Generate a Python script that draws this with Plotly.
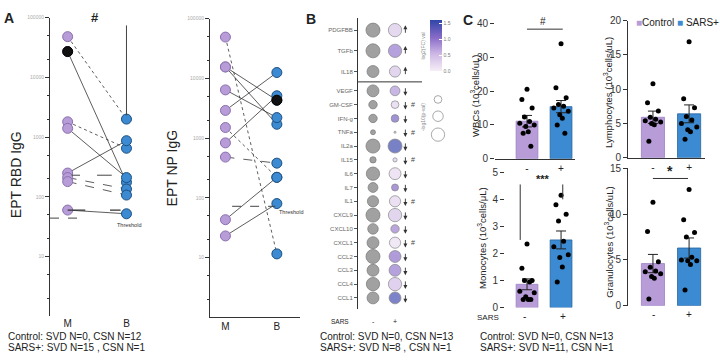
import plotly.graph_objects as go

W, H = 720, 360
def fx(p): return p / W
def fy(p): return 1 - p / H

FONT = "Liberation Sans, Arial, sans-serif"
PURPLE = "#b89cd8"
BLUE = "#3b8ad2"
INK = "#222222"

# ---------------- Panel A data ----------------
timepoints = ["M", "B"]
rbd_M = [48000, 27000, 1800, 1400, 250, 210, 180, 60]
rbd_B = [2000, 175, 650, 210, 870, 135, 107, 52]
rbd_link = ["dot", "solid", "dot", "solid", "solid", "dash", "dash", "solid"]
rbd_csn_subject = 1
rbd_threshold = 44
rbd_bracket = [74000, 2300]
rbd_marks = [230, 60]

np_M = [49000, 15500, 15500, 6400, 2900, 1500, 830, 480, 43, 23]
np_B = [11.5, 4300, 1700, 2200, 12500, 220, 5100, 380, 220, 80]
np_link = ["dot", "solid", "solid", "solid", "solid", "dot", "solid", "dash", "solid", "solid"]
np_csn_subject = 1
np_threshold = 72

log_ticks = [10, 100, 1000, 10000, 100000]
log_ticktext = ["10", "100", "1000", "10000", "100000"]

# ---------------- Panel B data ----------------
cytokines = ["PDGFBB", "TGFb", "IL18", "VEGF", "GM-CSF", "IFN-g", "TNFa", "IL2a", "IL15",
             "IL6", "IL7", "IL1", "CXCL9", "CXCL10", "CXCL1", "CCL2", "CCL3", "CCL4", "CCL1"]
ctrl_abundance = [1.0, 1.0, 0.85, 0.85, 0.6, 0.6, 0.35, 1.0, 0.45, 0.95, 0.7, 0.8,
                  1.0, 0.75, 0.85, 1.0, 0.85, 0.95, 0.85]
sars_abundance = [0.95, 0.95, 0.8, 0.7, 0.55, 0.55, 0.15, 1.0, 0.3, 0.85, 0.5, 0.8,
                  0.95, 0.6, 0.8, 0.85, 0.85, 0.95, 0.85]
sars_log2fc = [0.35, 0.95, 0.4, 0.75, 0.25, 1.15, 0.5, 1.5, 0.3, 0.2, 1.05, 0.25,
               0.4, 0.9, 0.15, 1.0, 0.95, 0.45, 1.45]
direction = ["up"] * 3 + ["down"] * 16
significant = [False, False, False, False, True, False, True, False, True, False, False, True,
               False, False, True, False, False, False, False]
n_up = 3
fc_ticks = [0.0, 0.5, 1.0, 1.5]
size_legend_vals = ["1", "2", "3"]
size_legend_levels = [0.55, 0.75, 0.95]

# ---------------- Panel C data ----------------
groups = ["-", "+"]
wbc_ctrl = [20.5, 17.5, 15, 12.3, 11, 10.5, 10, 9.5, 8, 7.5, 3.7]
wbc_sars = [34, 21, 18, 16, 15.5, 15, 14, 13, 12, 10, 7.5]
wbc_mean = [11.1, 15.4]
wbc_sem = [1.7, 1.8]

lym_ctrl = [10.8, 8.0, 6.8, 5.9, 5.6, 5.4, 5.2, 5.0, 4.8, 2.4]
lym_sars = [16.9, 8.6, 7.3, 6.0, 5.5, 5.0, 4.5, 4.1, 3.8, 2.7]
lym_mean = [5.9, 6.4]
lym_sem = [0.9, 1.3]

mono_ctrl = [2.35, 1.45, 1.0, 1.0, 0.95, 0.6, 0.55, 0.4, 0.3, 0.3, 0.3]
mono_sars = [4.15, 3.8, 3.45, 3.2, 2.45, 2.25, 1.95, 1.85, 1.5, 0.95]
mono_mean = [0.86, 2.5]
mono_sem = [0.2, 0.33]

gran_ctrl = [11.3, 8.1, 4.8, 4.2, 3.8, 3.7, 3.5, 3.2, 3.0, 0.74]
gran_sars = [12.7, 9.4, 8.0, 7.5, 5.3, 5.0, 4.9, 4.9, 4.5, 1.7]
gran_mean = [4.6, 6.3]
gran_sem = [1.0, 1.1]

fig = go.Figure()

# ---------------- Panel A traces ----------------
def paired_panel(M, B, links, csn, xa, ya, black_side):
    for m, b, d in zip(M, B, links):
        fig.add_trace(go.Scatter(x=[0, 1], y=[m, b], mode="lines", xaxis=xa, yaxis=ya,
                                 line=dict(color="#333333", width=0.8, dash=d),
                                 showlegend=False, hoverinfo="skip"))
    fig.add_trace(go.Scatter(x=[0] * len(M), y=M, mode="markers", xaxis=xa, yaxis=ya,
                             marker=dict(size=10, color=PURPLE, line=dict(color="#8a70b0", width=1)),
                             showlegend=False))
    fig.add_trace(go.Scatter(x=[1] * len(B), y=B, mode="markers", xaxis=xa, yaxis=ya,
                             marker=dict(size=10, color=BLUE, line=dict(color="#1d4f80", width=1)),
                             showlegend=False))
    bx = 0 if black_side == "M" else 1
    by = M[csn] if black_side == "M" else B[csn]
    fig.add_trace(go.Scatter(x=[bx], y=[by], mode="markers", xaxis=xa, yaxis=ya,
                             marker=dict(size=10, color="#111111", line=dict(color="#000", width=1)),
                             showlegend=False))

paired_panel(rbd_M, rbd_B, rbd_link, rbd_csn_subject, "x", "y", "M")
paired_panel(np_M, np_B, np_link, np_csn_subject, "x2", "y2", "B")

# ---------------- Panel B traces ----------------
row_pos = []
for i in range(len(cytokines)):
    row_pos.append(i * 1.5 if i < n_up else 4.4 + (i - n_up))

fig.add_trace(go.Scatter(x=[0] * len(cytokines), y=row_pos, mode="markers", xaxis="x3", yaxis="y3",
                         marker=dict(size=[14 * a for a in ctrl_abundance], color="#7a7a7a",
                                     line=dict(color="#4a4a4a", width=0.8)),
                         showlegend=False))
fig.add_trace(go.Scatter(x=[1] * len(cytokines), y=row_pos, mode="markers", xaxis="x3", yaxis="y3",
                         marker=dict(size=[14 * a for a in sars_abundance], color=sars_log2fc,
                                     cmin=0, cmax=1.6,
                                     colorscale=[[0, "#f6eef7"], [0.35, "#cbb5e4"], [0.65, "#8a6cc8"], [1, "#2f46a8"]],
                                     line=dict(color="#555555", width=0.7),
                                     colorbar=dict(x=fx(430), xanchor="left", y=fy(15), yanchor="top",
                                                   len=53 / H, lenmode="fraction", thickness=12,
                                                   thicknessmode="pixels", tickvals=fc_ticks,
                                                   ticktext=[f"{v:.1f}" for v in fc_ticks],
                                                   tickfont=dict(size=5, color="#777", family=FONT),
                                                   ticks="inside", ticklen=3, tickcolor="#fff",
                                                   outlinewidth=0, xpad=0, ypad=0)),
                         showlegend=False))

# size legend
fig.add_trace(go.Scatter(x=[0.5] * 3, y=[2.5, 1.5, 0.4], mode="markers", xaxis="x8", yaxis="y8",
                         marker=dict(size=[14 * l for l in size_legend_levels], color="rgba(0,0,0,0)",
                                     line=dict(color="#666", width=0.8)),
                         showlegend=False, cliponaxis=False))

# ---------------- Panel C traces ----------------
def jitter(n):
    pattern = [0, -0.6, 0.6, -0.3, 0.3, -0.85, 0.85, -0.15, 0.15, -0.45, 0.45]
    return [pattern[i % len(pattern)] * 0.25 for i in range(n)]

def bar_panel(ctrl, sars, mean, sem, xa, ya):
    for gi, (vals, col, edge) in enumerate([(ctrl, PURPLE, "#9b82c4"), (sars, BLUE, "#25649f")]):
        fig.add_trace(go.Bar(x=[gi], y=[mean[gi]], width=0.64, xaxis=xa, yaxis=ya,
                             marker=dict(color=col, line=dict(color=edge, width=0.8)),
                             error_y=dict(type="data", array=[sem[gi]], color=INK, thickness=1, width=5),
                             showlegend=False))
        fig.add_trace(go.Scatter(x=[gi + j for j in jitter(len(vals))], y=vals, mode="markers",
                                 xaxis=xa, yaxis=ya,
                                 marker=dict(size=5, color="#000"), showlegend=False,
                                 cliponaxis=False))

bar_panel(wbc_ctrl, wbc_sars, wbc_mean, wbc_sem, "x4", "y4")
bar_panel(lym_ctrl, lym_sars, lym_mean, lym_sem, "x5", "y5")
bar_panel(mono_ctrl, mono_sars, mono_mean, mono_sem, "x6", "y6")
bar_panel(gran_ctrl, gran_sars, gran_mean, gran_sem, "x7", "y7")

# ---------------- Layout ----------------
def log_y(domain_px):
    return dict(domain=[fy(domain_px[1]), fy(domain_px[0])], type="log", range=[0, 5],
                tickvals=log_ticks, ticktext=log_ticktext,
                tickfont=dict(size=5, color="#aaaaaa", family=FONT),
                showline=True, linecolor="#333", linewidth=1, ticks="outside", ticklen=4,
                tickcolor="#333",
                minor=dict(ticks="outside", ticklen=2, tickcolor="#333",
                           tickvals=[2, 5, 20, 50, 200, 500, 2000, 5000, 20000, 50000]),
                showgrid=False, zeroline=False)

def cat_x(domain_px, rng, anchor, showline, labels=True, size=10):
    return dict(domain=[fx(domain_px[0]), fx(domain_px[1])], range=rng, anchor=anchor,
                tickvals=[0, 1], ticktext=timepoints if anchor in ("y", "y2") else groups,
                showticklabels=labels, tickfont=dict(size=size, color=INK, family=FONT),
                showline=showline, linecolor="#333", linewidth=1, ticks="",
                showgrid=False, zeroline=False)

def lin_y(domain_px, rng, dtick, anchor, showline):
    return dict(domain=[fy(domain_px[1]), fy(domain_px[0])], range=rng, dtick=dtick, anchor=anchor,
                tickfont=dict(size=10, color="#333", family=FONT), showline=showline,
                linecolor="#333", linewidth=1, ticks="outside", ticklen=4, tickcolor="#333",
                showgrid=False, zeroline=False)

layout = dict(
    width=W, height=H, margin=dict(l=0, r=0, t=0, b=0), autosize=False,
    paper_bgcolor="white", plot_bgcolor="rgba(0,0,0,0)",
    font=dict(family=FONT, color=INK), showlegend=False, barmode="overlay",
    xaxis=cat_x([50, 150], [-0.3, 1.4], "y", False),
    yaxis={**log_y([12, 321]), "anchor": "x"},
    xaxis2=cat_x([210, 300], [-0.3, 1.45], "y2", True),
    yaxis2={**log_y([13, 322]), "anchor": "x2"},
    xaxis3=dict(domain=[fx(358), fx(425)], range=[-0.68, 2.36], anchor="y3", showticklabels=False,
                showgrid=False, zeroline=False, showline=False, ticks=""),
    yaxis3=dict(domain=[fy(313.4), fy(12.1)], range=[20.2, -0.9], anchor="x3",
                tickvals=row_pos, ticktext=cytokines,
                tickfont=dict(size=6, color="#666666", family=FONT), showline=True, linecolor="#333",
                linewidth=1, ticks="outside", ticklen=3, tickcolor="#555", showgrid=False, zeroline=False),
    xaxis4=cat_x([495, 575], [-0.94, 1.41], "y4", True),
    yaxis4=lin_y([18, 158], [0, 40], 10, "x4", False),
    xaxis5=cat_x([628, 705], [-0.69, 1.44], "y5", True),
    yaxis5=lin_y([15, 157], [0, 20], 5, "x5", True),
    xaxis6=cat_x([505, 575], [-0.647, 1.41], "y6", False, labels=False),
    yaxis6=lin_y([172, 312], [0, 5], 1, "x6", False),
    xaxis7=cat_x([628, 705], [-0.69, 1.44], "y7", False, labels=False),
    yaxis7=lin_y([168, 310], [0, 15], 5, "x7", True),
    xaxis8=dict(domain=[fx(428), fx(448)], range=[0, 1], anchor="y8", visible=False),
    yaxis8=dict(domain=[fy(140), fy(88)], range=[0, 3], anchor="x8", visible=False),
)

def note(text, x, y, size=10, color=INK, **kw):
    d = dict(text=text, x=fx(x), y=fy(y), xref="paper", yref="paper", showarrow=False,
             xanchor="center", yanchor="middle",
             font=dict(size=size, color=color, family=FONT))
    d.update(kw)
    return d

ann = [
    note("<b>A</b>", 9, 12, 14), note("<b>B</b>", 311, 13, 14), note("<b>C</b>", 468, 14, 14),
    note("<b>#</b>", 95, 12, 13),
    note("EPT RBD IgG", 16, 175, 14, textangle=-90),
    note("EPT NP IgG", 172, 168, 14, textangle=-90),
    note("Threshold", 129, 227, 5.5, "#333"),
    note("Threshold", 291, 213, 5.5, "#333"),
    note("Control: SVD N=0, CSN N=12", 6, 342, 10, xanchor="left"),
    note("SARS+: SVD N=15 , CSN N=1", 6, 353, 10, xanchor="left"),
    note("Control: SVD N=0, CSN N=13", 318, 342, 10, xanchor="left"),
    note("SARS+: SVD N=8 , CSN N=1", 318, 353, 10, xanchor="left"),
    note("Control: SVD N=0, CSN N=13", 478, 342, 10, xanchor="left"),
    note("SARS+: SVD N=11, CSN N=1", 478, 353, 10, xanchor="left"),
    note("SARS", 340, 326, 6.5), note("-", 373, 326, 7), note("+", 395, 326, 7),
    note("log2(FC) val", 423, 42, 5, "#888", textangle=-90),
    note("-log10(p-val)", 423, 115, 5, "#888", textangle=-90),
    note("WBCs (10<sup>3</sup>cells/uL)", 475, 93, 9.5, textangle=-90),
    note("Lymphocytes (10<sup>3</sup>cells/uL)", 608, 90, 9.5, textangle=-90),
    note("Monocytes (10<sup>3</sup>cells/μL)", 482, 240, 9.5, textangle=-90),
    note("Granulocytes (10<sup>3</sup>cells/uL)", 609, 245, 9.5, textangle=-90),
    note("SARS", 488, 322, 8),
    note("-", 524, 321, 10), note("+", 563, 321, 10),
    note("-", 653, 319, 10), note("+", 689, 319, 10),
    note("#", 543, 16, 10),
    note("<b>***</b>", 543, 179, 11),
    note("<b>*</b>", 670, 171, 14),
    note(f"<span style='color:{PURPLE}'>■</span>Control <span style='color:{BLUE}'>■</span> SARS+",
         634, 17, 10, xanchor="left"),
]

# direction arrows and significance marks for panel B
for pos, d, s in zip(row_pos, direction, significant):
    head = pos - 0.35 if d == "up" else pos + 0.35
    ann.append(dict(x=1.47, y=head, xref="x3", yref="y3", text="", showarrow=True,
                    ax=0, ay=9 if d == "up" else -9, arrowhead=2, arrowsize=0.9,
                    arrowwidth=0.9, arrowcolor="#333333"))
    if s:
        ann.append(dict(x=1.82, y=pos, xref="x3", yref="y3", text="#", showarrow=False,
                        xanchor="center", yanchor="middle",
                        font=dict(size=7, color="#444444", family=FONT)))
for lvl_y, lab in zip([2.5, 1.5, 0.4], size_legend_vals):
    ann.append(dict(x=1.05, y=lvl_y, xref="x8", yref="y8", text=lab, showarrow=False,
                    xanchor="left", yanchor="middle", font=dict(size=5, color="#777", family=FONT)))
layout["annotations"] = ann

shapes = [
    # panel A1 bracket and mean marks (data values on log axis)
    dict(type="line", xref="x", yref="y", x0=1, x1=1, y0=rbd_bracket[0], y1=rbd_bracket[1],
         line=dict(color="#444", width=1)),
    dict(type="line", xref="x", yref="y", x0=0.07, x1=0.21, y0=rbd_marks[0], y1=rbd_marks[0], line=dict(color="#444", width=1)),
    dict(type="line", xref="x", yref="y", x0=0.5, x1=0.75, y0=rbd_marks[0], y1=rbd_marks[0], line=dict(color="#444", width=1)),
    dict(type="line", xref="x", yref="y", x0=0.0, x1=0.3, y0=rbd_marks[1], y1=rbd_marks[1], line=dict(color="#333", width=1.2)),
    dict(type="line", xref="x", yref="y", x0=0.72, x1=0.9, y0=rbd_marks[1], y1=rbd_marks[1], line=dict(color="#333", width=1.2)),
    dict(type="line", xref="x", yref="y", x0=-0.3, x1=0.3, y0=rbd_threshold, y1=rbd_threshold,
         line=dict(color="#444", width=1, dash="dash")),
    dict(type="line", xref="x2", yref="y2", x0=0.13, x1=0.97, y0=np_threshold, y1=np_threshold,
         line=dict(color="#444", width=1, dash="dash")),
    # panel B separator
    dict(type="line", xref="paper", yref="y3", x0=fx(358), x1=fx(422), y0=3.75, y1=3.75,
         line=dict(color="#333", width=1)),
    # panel C significance
    dict(type="line", xref="x4", yref="y4", x0=0, x1=1.05, y0=38.3, y1=38.3, line=dict(color="#333", width=1)),
    dict(type="line", xref="x6", yref="y6", x0=-0.2, x1=-0.2, y0=4.55, y1=2.5, line=dict(color="#333", width=1)),
    dict(type="line", xref="x6", yref="y6", x0=1.05, x1=1.05, y0=4.55, y1=4.0, line=dict(color="#333", width=1)),
    dict(type="line", xref="x7", yref="y7", x0=0, x1=0.97, y0=13.9, y1=13.9, line=dict(color="#333", width=1)),
]
layout["shapes"] = shapes

fig.update_layout(**layout)
fig.write_html("out.html", config={"displayModeBar": False, "responsive": False},
               post_script="document.body.style.margin='0';document.body.style.overflow='hidden';")
